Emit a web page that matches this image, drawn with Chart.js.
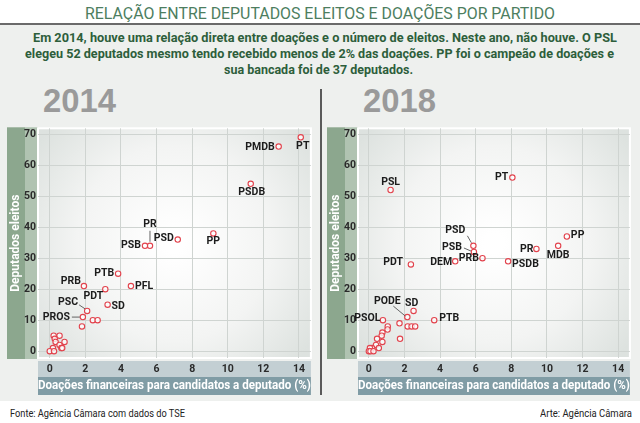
<!DOCTYPE html>
<html>
<head>
<meta charset="utf-8">
<script src="https://cdn.jsdelivr.net/npm/chart.js@4/dist/chart.umd.min.js"></script>
<style>
  html, body { margin:0; padding:0; }
  body { width:640px; height:423px; position:relative; background:#ffffff; overflow:hidden;
         font-family:"Liberation Sans Narrow","Roboto","Liberation Sans",sans-serif; }
  .abs { position:absolute; white-space:nowrap; }
  .fit { display:inline-block; transform-origin:0 50%; }
  #panel { position:absolute; left:0; top:25px; width:640px; height:376px; background:#eef0ee; }
  #rule { position:absolute; left:0; top:23px; width:640px; height:2px; background:#6a6a6a; }
  #divider { position:absolute; left:320px; top:89px; width:2px; height:306px; background:#5a5a5a; }
  .title { color:#4d7e5f; font-size:17px; line-height:20px; }
  .sub { color:#2d5e3b; font-size:13.5px; line-height:16px; font-weight:bold; }
  .year { color:#9a9a9a; font-family:"Liberation Sans","Roboto",sans-serif; font-weight:bold; font-size:33px; line-height:34px; }
  .foot { color:#222; font-size:11.5px; line-height:14px; }
  canvas { position:absolute; }
</style>
</head>
<body>
<div id="panel"></div>
<div id="rule"></div>
<div class="abs title" style="left:85px; top:3px;"><span class="fit" data-w="470">RELAÇÃO ENTRE DEPUTADOS ELEITOS E DOAÇÕES POR PARTIDO</span></div>
<div class="abs sub" style="left:33px; top:29px;"><span class="fit" data-w="584">Em 2014, houve uma relação direta entre doações e o número de eleitos. Neste ano, não houve. O PSL</span></div>
<div class="abs sub" style="left:25px; top:45px;"><span class="fit" data-w="589">elegeu 52 deputados mesmo tendo recebido menos de 2% das doações. PP foi o campeão de doações e</span></div>
<div class="abs sub" style="left:224px; top:61px;"><span class="fit" data-w="189">sua bancada foi de 37 deputados.</span></div>
<div class="abs year" style="left:43px; top:84px;"><span class="fit" data-w="73">2014</span></div>
<div class="abs year" style="left:363px; top:84px;"><span class="fit" data-w="73">2018</span></div>
<div id="divider"></div>
<canvas id="c2014" width="309" height="276" style="left:7px; top:120px;"></canvas>
<canvas id="c2018" width="308" height="276" style="left:327px; top:120px;"></canvas>
<div class="abs foot" style="left:10px; top:406px;"><span class="fit" data-w="175">Fonte: Agência Câmara com dados do TSE</span></div>
<div class="abs foot" style="left:540px; top:406px;"><span class="fit" data-w="92">Arte: Agência Câmara</span></div>

<script>
// ---------------- DATA ----------------
const parties2014   = ['PT','PMDB','PSDB','PP','PSD','PR','PSB','PTB','PFL','PRB','PDT','SD','PSC','PROS','','','','','','','','','','','','','',''];
const donations2014 = [14.1,12.86,11.29,9.19,7.19,5.63,5.35,3.84,4.56,1.92,3.12,3.25,2.10,1.86,2.42,2.69,1.81,0.22,0.55,0.28,0.33,0.83,0.55,0.65,0.70,0.18,0.0,0.24];
const deputies2014  = [69,66,54,38,36,34,34,25,21,21,20,15,13,11,10,10,8,5,5,4,3,3,2,1,1,1,0,0];

const parties2018   = ['PSL','PT','PP','MDB','PR','PSD','PSB','PRB','DEM','PSDB','PDT','PODE','SD','PTB','PSOL','','','','','','','','','','','','','','','','','',''];
const donations2018 = [1.22,8.06,11.12,10.63,9.41,5.87,5.90,6.38,4.85,7.82,2.36,2.16,2.51,3.67,0.79,2.18,2.40,2.60,1.72,1.06,1.05,0.76,0.72,0.46,1.75,0.76,0.40,0.56,0.18,0.06,0.0,0.09,0.26];
const deputies2018  = [52,56,37,34,33,34,32,30,29,29,28,11,13,10,10,8,8,8,9,8,7,6,5,4,4,3,2,1,1,1,0,0,0];

const xTicks = [0,2,4,6,8,10,12,14];
const yTicks = [0,10,20,30,40,50,60,70];
const xTitle = 'Doações financeiras para candidatos a deputado (%)';
const yTitle = 'Deputados eleitos';

// ---------------- LABEL PLACEMENT (offsets in px from point) ----------------
const place2014 = {
  PT:{dx:2,dy:9,a:'center'}, PMDB:{dx:-4,dy:1,a:'right'}, PSDB:{dx:1,dy:9,a:'center'},
  PP:{dx:0,dy:8,a:'center'}, PSD:{dx:-4,dy:-1.5,a:'right'},
  PR:{dx:0,dy:-21,a:'center',line:[0,-15,0,-4]}, PSB:{dx:-4,dy:0,a:'right'},
  PTB:{dx:-4,dy:0,a:'right'}, PFL:{dx:4,dy:0,a:'left'}, PRB:{dx:-3,dy:-5,a:'right'},
  PDT:{dx:-2,dy:7,a:'right'}, SD:{dx:4,dy:2,a:'left'},
  PSC:{dx:-9,dy:-9,a:'right',line:[-8,-6,-2,-2]}, PROS:{dx:-13,dy:0,a:'right',line:[-11,0,-3,0]}
};
const place2018 = {
  PSL:{dx:0,dy:-8,a:'center'}, PT:{dx:-4,dy:0,a:'right'}, PP:{dx:4,dy:-1,a:'left'},
  MDB:{dx:0,dy:9.5,a:'center'}, PR:{dx:-3,dy:0,a:'right'},
  PSD:{dx:-8,dy:-15,a:'right',line:[-6,-10,-2,-3]}, PSB:{dx:-12,dy:-5,a:'right',line:[-10,-4,-3,-1]},
  PRB:{dx:-3.5,dy:0,a:'right'}, DEM:{dx:-3,dy:1,a:'right'}, PSDB:{dx:4,dy:3,a:'left'},
  PDT:{dx:-8,dy:-2,a:'right'}, PODE:{dx:-20,dy:-16,a:'center',line:[-14,-11,-2,-1]},
  SD:{dx:-2,dy:-7.5,a:'center'}, PTB:{dx:5,dy:-1.5,a:'left'}, PSOL:{dx:-2.5,dy:-1.5,a:'right'}
};

// fit text widths
document.querySelectorAll('.fit').forEach(el => {
  const w = el.getBoundingClientRect().width;
  const t = parseFloat(el.dataset.w);
  if (w > 0) el.style.transform = 'scaleX(' + (t / w) + ')';
});

const FONT = '"Liberation Sans Narrow","Roboto","Liberation Sans",sans-serif';

const bandPlugin = {
  id:'bands',
  beforeDraw(chart) {
    const {ctx, chartArea:a} = chart;
    ctx.save();
    // y band
    ctx.fillStyle = '#8ca78e'; ctx.fillRect(0, a.top - 1, 18, a.bottom - a.top + 2);
    ctx.fillStyle = '#b0c3b1'; ctx.fillRect(18, a.top - 1, a.left - 18, a.bottom - a.top + 2);
    // x band
    ctx.fillStyle = '#c3cfd3'; ctx.fillRect(a.left, a.bottom + 3, a.right - a.left, 16);
    ctx.fillStyle = '#809ca5'; ctx.fillRect(a.left, a.bottom + 19, a.right - a.left, 18);
    // plot background
    const cx = (a.left + a.right) / 2, cy = (a.top + a.bottom) / 2;
    const g = ctx.createRadialGradient(cx, cy, 10, cx, cy, Math.max(a.right - a.left, a.bottom - a.top) * 0.62);
    g.addColorStop(0, '#ffffff');
    g.addColorStop(0.55, '#f3f4f3');
    g.addColorStop(1, '#dde2df');
    ctx.fillStyle = g;
    ctx.fillRect(a.left, a.top, a.right - a.left, a.bottom - a.top);
    ctx.strokeStyle = '#ffffff'; ctx.lineWidth = 2;
    ctx.strokeRect(a.left, a.top, a.right - a.left, a.bottom - a.top);
    ctx.restore();
  }
};

const labelPlugin = {
  id:'plabels',
  afterDatasetsDraw(chart, args, opts) {
    const {ctx} = chart;
    const xs = chart.scales.x, ys = chart.scales.y;
    const ds = chart.data.datasets[0];
    ctx.save();
    ctx.font = 'bold 10.5px ' + FONT;
    ctx.textBaseline = 'middle';
    ds.data.forEach(p => {
      if (!p.name) return;
      const pl = opts.place[p.name]; if (!pl) return;
      const px = xs.getPixelForValue(p.x), py = ys.getPixelForValue(p.y);
      if (pl.line) {
        ctx.strokeStyle = '#555'; ctx.lineWidth = 0.9;
        ctx.beginPath(); ctx.moveTo(px + pl.line[0], py + pl.line[1]); ctx.lineTo(px + pl.line[2], py + pl.line[3]); ctx.stroke();
      }
      ctx.fillStyle = '#1c1c1c';
      ctx.textAlign = pl.a;
      ctx.fillText(p.name, px + pl.dx, py + pl.dy);
    });
    ctx.restore();
  }
};

function makeChart(id, names, xs, ys, xmin, xmax, place) {
  const pts = xs.map((x, i) => ({x:x, y:ys[i], name:names[i]}));
  return new Chart(document.getElementById(id), {
    type:'scatter',
    data:{ datasets:[{ data:pts, pointRadius:2.7, pointBorderWidth:1.1,
      pointBorderColor:'#e2434d', pointBackgroundColor:'rgba(255,255,255,0.75)' }] },
    options:{
      responsive:false, animation:false, events:[],
      layout:{ padding:{ top:2, right:1, left:0, bottom:0 } },
      plugins:{ legend:{display:false}, tooltip:{enabled:false}, plabels:{ place:place } },
      scales:{
        x:{ type:'linear', min:xmin, max:xmax,
          afterFit(s){ s.height = 38; },
          afterBuildTicks(s){ s.ticks = xTicks.map(v => ({value:v})); },
          ticks:{ color:'#2a2a2a', font:{family:FONT, weight:'bold', size:10.5}, padding:5, maxRotation:0 },
          grid:{ color:'#cfd4d1', lineWidth:1, drawTicks:false },
          border:{ display:false },
          title:{ display:true, text:xTitle, color:'#ffffff', font:{family:FONT, weight:'bold', size:13}, padding:{top:0, bottom:2.5} }
        },
        y:{ type:'linear', min:-2.2, max:71.9,
          afterFit(s){ s.width = 31; },
          afterBuildTicks(s){ s.ticks = yTicks.map(v => ({value:v})); },
          ticks:{ color:'#2a2a2a', font:{family:FONT, weight:'bold', size:10.5}, padding:2 },
          grid:{ color:'#cfd4d1', lineWidth:1, drawTicks:false },
          border:{ display:false },
          title:{ display:true, text:yTitle, color:'#ffffff', font:{family:FONT, weight:'bold', size:12}, padding:{top:2, bottom:0} }
        }
      }
    },
    plugins:[bandPlugin, labelPlugin]
  });
}

makeChart('c2014', parties2014, donations2014, deputies2014, -0.66, 14.67, place2014);
makeChart('c2018', parties2018, donations2018, deputies2018, -0.61, 14.66, place2018);
</script>
</body>
</html>
